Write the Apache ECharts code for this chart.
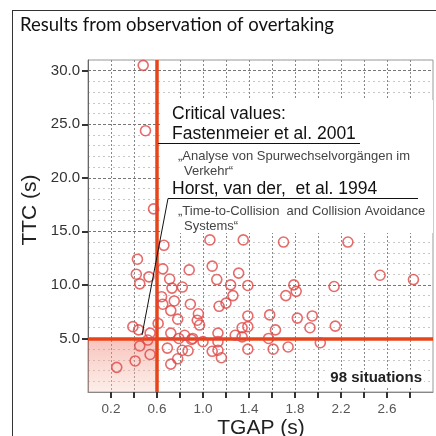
<!DOCTYPE html>
<html>
<head>
<meta charset="utf-8">
<script src="https://cdn.jsdelivr.net/npm/echarts@6/dist/echarts.min.js"></script>
<style>
  html, body { margin: 0; padding: 0; background: #fff; }
  #chart { width: 436px; height: 436px; }
</style>
</head>
<body>
<div id="chart"></div>
<script>
const tgap = [
  0.48, 0.50, 0.57, 0.66, 0.43, 0.42, 0.45, 0.53, 0.65, 0.88,
  0.71, 0.73, 0.82, 0.64, 0.65, 0.75, 0.72, 0.89, 0.78, 0.61,
  0.39, 0.44, 0.54, 0.72, 0.84, 0.79, 0.91, 0.52, 0.45, 0.69,
  0.82, 0.87, 0.54, 0.78, 0.72, 0.41, 0.25,
  1.06, 1.35, 1.70, 2.26, 1.08, 1.12, 1.31, 1.24, 1.39, 1.79,
  1.81, 1.72, 2.14, 2.54, 2.83, 1.26, 1.20, 1.14, 0.96, 0.95,
  0.97, 1.39, 1.34, 1.39, 1.58, 1.82, 1.95, 1.93, 2.15, 1.63,
  1.28, 1.13, 1.34, 1.57, 0.90, 1.00, 1.13, 2.02, 1.08, 1.13,
  1.16, 1.39, 1.61, 1.74
];
const ttc = [
  30.5, 24.4, 17.1, 13.7, 12.4, 11.0, 10.1, 10.75, 11.5, 11.4,
  10.55, 9.7, 9.8, 8.9, 8.2, 8.5, 7.6, 8.2, 6.8, 6.4,
  6.1, 5.8, 5.5, 5.5, 5.3, 5.0, 5.0, 4.85, 4.3, 4.1,
  3.9, 3.85, 3.5, 3.1, 2.6, 2.9, 2.3,
  14.2, 14.2, 14.0, 14.0, 11.75, 10.5, 11.1, 10.0, 9.95, 10.0,
  9.4, 9.0, 9.85, 10.9, 10.5, 9.0, 8.3, 8.0, 7.3, 6.7,
  6.25, 7.1, 6.0, 6.1, 7.2, 6.9, 7.1, 6.0, 6.15, 5.8,
  5.3, 5.5, 5.15, 5.0, 4.9, 4.7, 4.7, 4.6, 3.8, 3.9,
  3.2, 4.0, 4.0, 4.2
];
const xLabels = [0.2, 0.6, 1.0, 1.4, 1.8, 2.2, 2.6];
const xTicks = [0.2, 0.4, 0.6, 0.8, 1.0, 1.2, 1.4, 1.6, 1.8, 2.0, 2.2, 2.4, 2.6, 2.8];
const yLabels = [5, 10, 15, 20, 25, 30];
const criticalTgap = 0.6;
const criticalTtc = 5;

const points = tgap.map((x, i) => [x, ttc[i]]);
const red = '#e8441a';
const sans = '"Liberation Sans", Arial, sans-serif';

const chart = echarts.init(document.getElementById('chart'));
chart.setOption({
  animation: false,
  backgroundColor: '#fff',
  grid: { left: 88, right: 3, top: 60, bottom: 44, show: true, borderColor: '#999', borderWidth: 1 },
  xAxis: {
    type: 'value', min: 0, max: 3, interval: 0.2,
    axisLine: { show: true, onZero: false, lineStyle: { color: '#888' } },
    axisTick: { show: true, customValues: xTicks, length: 6, lineStyle: { color: '#333', width: 2 } },
    axisLabel: { customValues: xLabels, formatter: v => v.toFixed(1), color: '#555', fontSize: 13.5, fontFamily: sans, margin: 10 },
    splitLine: { show: true, lineStyle: { color: '#888', type: [2, 2], width: 1 } }
  },
  yAxis: [
    {
      type: 'value', min: 0, max: 31, interval: 1,
      axisLine: { show: true, lineStyle: { color: '#666' } },
      axisTick: { show: false }, axisLabel: { show: false },
      splitLine: { show: true, lineStyle: { color: '#c8c8c8', type: [2, 3] } }
    },
    {
      type: 'value', min: 0, max: 31, interval: 5, position: 'left',
      axisLine: { show: false },
      axisTick: { show: true, customValues: yLabels, length: 6, lineStyle: { color: '#333', width: 2 } },
      axisLabel: { customValues: yLabels, formatter: v => v.toFixed(1), color: '#333', fontSize: 15, fontFamily: sans, margin: 8 },
      splitLine: { show: true, lineStyle: { color: '#777', type: [3, 2] } }
    }
  ],
  series: [{
    type: 'scatter',
    yAxisIndex: 1,
    data: points,
    symbol: 'circle',
    symbolSize: 10,
    z: 5,
    itemStyle: { color: 'rgba(0,0,0,0)', borderColor: '#e04646', borderWidth: 1.6 },
    markArea: {
      silent: true,
      itemStyle: {
        color: new echarts.graphic.LinearGradient(0, 0, 0, 1, [
          { offset: 0, color: 'rgba(238,120,105,0.45)' },
          { offset: 1, color: 'rgba(250,205,190,0.35)' }
        ])
      },
      data: [[{ coord: [0, 0] }, { coord: [criticalTgap, criticalTtc] }]]
    },
    markLine: {
      silent: true, symbol: 'none', label: { show: false },
      lineStyle: { color: red, width: 3.5, type: 'solid' },
      data: [{ xAxis: criticalTgap }, { yAxis: criticalTtc }]
    }
  }],
  graphic: [
    // outer frame
    { type: 'line', shape: { x1: 12, y1: 10.5, x2: 436, y2: 10.5 }, style: { stroke: '#333', lineWidth: 1 } },
    { type: 'line', shape: { x1: 12.5, y1: 10, x2: 12.5, y2: 436 }, style: { stroke: '#333', lineWidth: 1 } },
    { type: 'text', left: 20, top: 16, style: { text: 'Results from observation of overtaking', font: '18.5px Lato, sans-serif', fill: '#111' } },
    { type: 'text', x: 30, y: 210, rotation: Math.PI / 2, style: { text: 'TTC (s)', font: '21px ' + sans, fill: '#222', align: 'center', verticalAlign: 'middle' } },
    { type: 'text', x: 261, y: 428, style: { text: 'TGAP (s)', font: '21px ' + sans, fill: '#222', align: 'center', verticalAlign: 'middle' } },
    // annotation box
    { type: 'rect', z: 10, shape: { x: 160, y: 100, width: 273, height: 133 }, style: { fill: '#fff' } },
    { type: 'text', z: 11, x: 172, y: 114, style: { text: 'Critical values:', font: '17.5px ' + sans, fill: '#111', verticalAlign: 'middle' } },
    { type: 'text', z: 11, x: 172, y: 134, style: { text: 'Fastenmeier et al. 2001', font: '17.5px ' + sans, fill: '#111', verticalAlign: 'middle' } },
    { type: 'line', z: 11, shape: { x1: 158, y1: 143.5, x2: 360, y2: 143.5 }, style: { stroke: '#111', lineWidth: 1 } },
    { type: 'text', z: 11, x: 178, y: 156, style: { text: '\u201EAnalyse von Spurwechselvorg\u00E4ngen im', font: '13px ' + sans, fill: '#444', verticalAlign: 'middle' } },
    { type: 'text', z: 11, x: 184, y: 171, style: { text: 'Verkehr\u201C', font: '13px ' + sans, fill: '#444', verticalAlign: 'middle' } },
    { type: 'text', z: 11, x: 172, y: 189, style: { text: 'Horst, van der,  et al. 1994', font: '17.5px ' + sans, fill: '#111', verticalAlign: 'middle' } },
    { type: 'line', z: 11, shape: { x1: 168, y1: 198.5, x2: 418, y2: 198.5 }, style: { stroke: '#111', lineWidth: 1 } },
    { type: 'line', z: 11, shape: { x1: 168, y1: 198.5, x2: 142, y2: 335 }, style: { stroke: '#111', lineWidth: 1 } },
    { type: 'text', z: 11, x: 178, y: 211, style: { text: '\u201ETime-to-Collision  and Collision Avoidance', font: '13px ' + sans, fill: '#444', verticalAlign: 'middle' } },
    { type: 'text', z: 11, x: 184, y: 226, style: { text: 'Systems\u201C', font: '13px ' + sans, fill: '#444', verticalAlign: 'middle' } },
    { type: 'text', z: 11, x: 424, y: 378, style: { text: '98 situations', font: 'bold 15px ' + sans, fill: '#222', align: 'right', verticalAlign: 'middle', backgroundColor: '#fff', padding: [1, 2] } }
  ]
});
</script>
</body>
</html>
